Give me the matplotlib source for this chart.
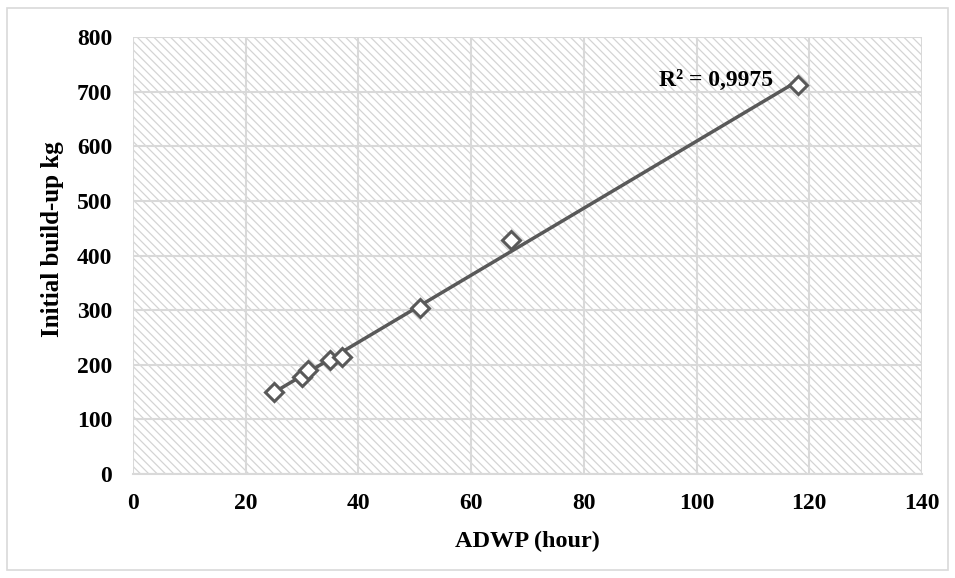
import numpy as np
import matplotlib
matplotlib.use("Agg")
import matplotlib.pyplot as plt
from matplotlib.patches import Rectangle

# Data
adwp_hours = [25, 30, 31, 35, 37, 51, 67, 118]
buildup_kg = [150, 178, 190, 208, 214, 303, 428, 713]
x_ticks = [0, 20, 40, 60, 80, 100, 120, 140]
y_ticks = [0, 100, 200, 300, 400, 500, 600, 700, 800]
r2_label = "R² = 0,9975"

plt.rcParams['font.family'] = ['Liberation Serif', 'DejaVu Serif']
plt.rcParams['hatch.linewidth'] = 0.9
plt.rcParams['hatch.color'] = '#d4d4d4'

FS = 17

fig = plt.figure(figsize=(9.55, 5.78), dpi=100)
ax = fig.add_axes([133/955, 1-474/578, (922-133)/955, (474-37)/578])

# figure border
fig.patches.append(Rectangle((7/955, 8/578), (948-7)/955, (570-8)/578,
                             transform=fig.transFigure, fill=False,
                             edgecolor='#d9d9d9', linewidth=1.2))

# hatched background
ax.set_facecolor('white')
ax.add_patch(Rectangle((0, 0), 1, 1, transform=ax.transAxes, facecolor='white',
                       edgecolor='#d4d4d4', hatch='\\\\\\\\', linewidth=0, zorder=0))

ax.set_xlim(0, 140)
ax.set_ylim(0, 800)
ax.set_xticks(x_ticks)
ax.set_yticks(y_ticks)
ax.grid(True, color='#d9d9d9', linewidth=1.5, zorder=1)
ax.set_axisbelow(True)
for s in ax.spines.values():
    s.set_visible(False)
ax.spines['bottom'].set_visible(True)
ax.spines['bottom'].set_color('#d9d9d9')
ax.spines['bottom'].set_linewidth(1.5)
ax.tick_params(length=0, labelsize=FS, pad=14)
ax.tick_params(axis='y', pad=15)
for lab in ax.get_xticklabels() + ax.get_yticklabels():
    lab.set_fontweight('bold')

# trendline
x = np.array(adwp_hours, dtype=float)
y = np.array(buildup_kg, dtype=float)
m, b = np.polyfit(x, y, 1)
xs = np.array([x.min(), x.max()])
ax.plot(xs, m*xs + b, color='#595959', linewidth=2.5, zorder=3)

ax.plot(x, y, linestyle='none', marker='D', markersize=9, markerfacecolor='white',
        markeredgecolor='#595959', markeredgewidth=2.2, zorder=4)

ax.text(113.5, 720, r2_label, ha='right', va='center', fontsize=FS, fontweight='bold')

ax.set_xlabel('ADWP (hour)', fontsize=17.5, fontweight='bold', labelpad=12)
ax.set_ylabel('Initial build-up kg', fontsize=18, fontweight='bold')
ax.yaxis.set_label_coords((64-133)/789, (474-239)/437)

fig.savefig('out.png', dpi=100)
